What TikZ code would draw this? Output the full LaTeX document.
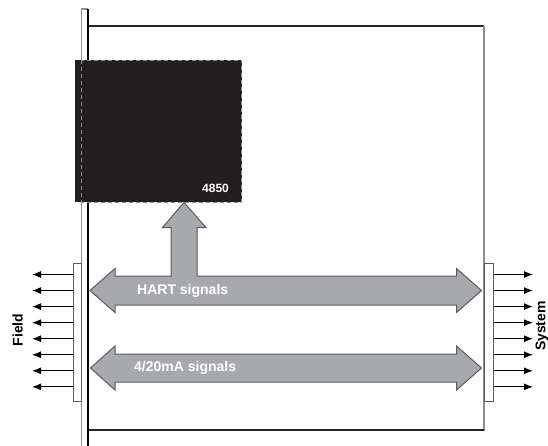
\documentclass[tikz,border=0pt]{standalone}
\usepackage{fontspec}
\setmainfont{Liberation Sans}
\usetikzlibrary{arrows.meta}
\definecolor{arrowgray}{HTML}{A7A9AC}
\definecolor{edgegray}{HTML}{5A5B5D}
\definecolor{chipblack}{HTML}{231F20}
\definecolor{panelgray}{HTML}{8C8E90}
\begin{document}
\begin{tikzpicture}[x=1pt, y=-1pt,
        bigarrow/.style = {fill=arrowgray, draw=edgegray, line width=1pt, line join=miter},
        sig/.style = {text=white, font=\fontsize{14}{16}\selectfont\bfseries, inner sep=0pt, anchor=west},
        side/.style = {font=\fontsize{14}{16}\selectfont\bfseries, rotate=90, inner sep=0pt},
        block/.style = {draw=edgegray, fill=white, line width=1pt},
        pinarrow/.style = {line width=1.1pt, -{Latex[length=9pt, width=7pt]}},
        line cap=butt
    ]
        \useasboundingbox (0,0) rectangle (548,445);
        \draw[black!85, line width=1.1pt] (88,26) -- (484,26);
        \draw[panelgray, line width=1.7pt] (484,26) -- (484,430.5);
        \draw[black!85, line width=1.1pt] (88,430) -- (484,430);
        \draw[panelgray, line width=1.7pt] (81.5,446) |- (88,9);
        \draw[black, line width=1.1pt] (88,9) -- (88,446);
        \fill[chipblack] (75,60) rectangle (242,202);
        \draw[panelgray, dashed, dash pattern=on 4pt off 3pt, line width=0.9pt] (81.5,60) rectangle (241.5,202);
        \node[text=white, font=\fontsize{12}{14}\selectfont\bfseries, inner sep=0pt] (chip) at (215.5,188) {4850};
        \draw[bigarrow] (90,290.5) -- (115,268.5) -- (115,276) -- (171,276) -- (171,227.5) -- (162.5,227.5)
            -- (184,202.5) -- (206,227.5) -- (197,227.5) -- (197,276) -- (456.5,276) -- (456.5,268.5)
            -- (481.5,290.5) -- (456.5,312.5) -- (456.5,305) -- (115,305) -- (115,312.5) -- cycle;
        \draw[bigarrow] (90.5,368) -- (115,346) -- (115,354) -- (456.5,354) -- (456.5,346)
            -- (481.5,368) -- (456.5,390) -- (456.5,382) -- (115,382) -- (115,390) -- cycle;
        \node[sig] (hart) at (137,291) {HART signals};
        \node[sig] (ma) at (134,368) {4/20mA signals};
        \node[block, minimum width=8.5pt, minimum height=138pt, inner sep=0pt] (fieldblock) at (77.25,332) {};
        \node[block, minimum width=9pt, minimum height=138pt, inner sep=0pt] (sysblock) at (488.5,332) {};
        \foreach \i in {0,...,7} {
            \coordinate (fieldend\i) at (32,274.5+16.05*\i);
            \coordinate (sysend\i) at (533,274.5+16.05*\i);
            \draw[pinarrow] (fieldblock.west |- fieldend\i) -- (fieldend\i);
            \draw[pinarrow] (sysblock.east |- sysend\i) -- (sysend\i);
        }
        \node[side] (field) at (17.5,330) {Field};
        \node[side] (system) at (542,326) {System};
    \end{tikzpicture}
\end{document}
